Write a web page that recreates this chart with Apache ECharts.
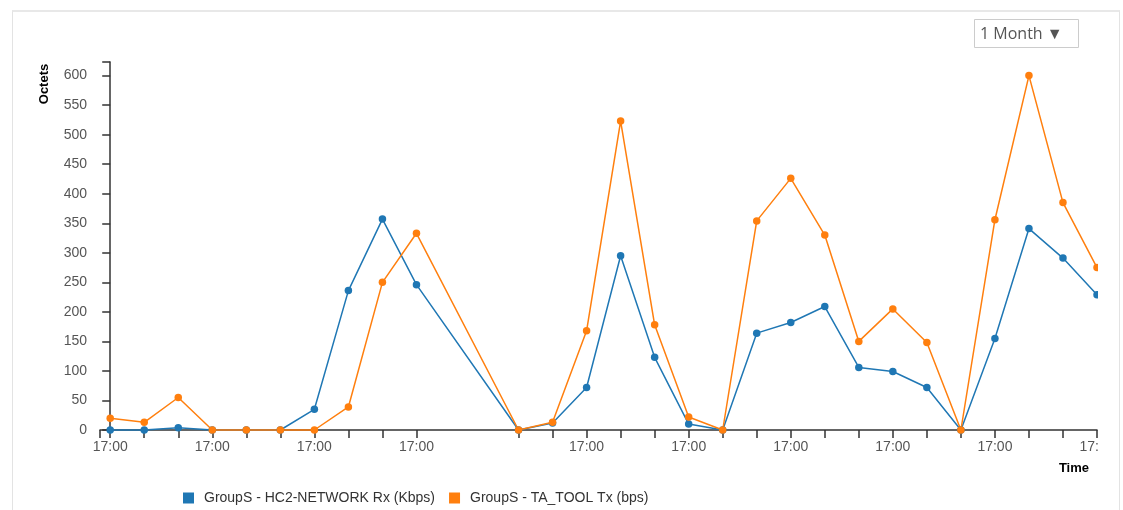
<!DOCTYPE html>
<html>
<head>
<meta charset="utf-8">
<script src="https://cdn.jsdelivr.net/npm/echarts@6/dist/echarts.min.js"></script>
<style>
  html, body { margin: 0; padding: 0; background: #fff; }
  #panel { position: absolute; left: 12px; top: 10px; width: 1106px; height: 520px;
           border-top: 2px solid #e8e8e8; border-left: 1px solid #e3e3e3; border-right: 1px solid #e3e3e3; }
  #chart { position: absolute; left: 0; top: 0; width: 1098px; height: 510px; overflow: hidden; }
</style>
</head>
<body>
<div id="panel"></div>
<div id="chart"></div>
<script>
// Day offsets of the samples (each labelled 17:00); days 10 and 11 have no data
const days = [0, 1, 2, 3, 4, 5, 6, 7, 8, 9, 12, 13, 14, 15, 16, 17, 18, 19, 20, 21, 22, 23, 24, 25, 26, 27, 28, 29];
const rxKbps = [0, 0, 4, 0, 0, 0, 35, 236, 357, 246, 0, 12, 72, 295, 123, 10, 0, 164, 182, 209, 106, 99, 72, 0, 155, 341, 291, 229];
const txBps = [20, 13, 55, 0, 0, 0, 0, 39, 250, 333, 0, 13, 168, 523, 178, 22, 0, 354, 426, 330, 150, 205, 148, 0, 356, 600, 385, 275];
const labelDays = [0, 3, 6, 9, 14, 17, 20, 23, 26, 29];
const timeLabel = '17:00';
const yTicks = [0, 50, 100, 150, 200, 250, 300, 350, 400, 450, 500, 550, 600];
const seriesNames = ['GroupS - HC2-NETWORK Rx (Kbps)', 'GroupS - TA_TOOL Tx (bps)'];
const rangeLabel = '1 Month ▼';

const xMin = -0.3, xMax = 29, yMax = 623;
const font = '"Liberation Sans", Arial, sans-serif';

const chart = echarts.init(document.getElementById('chart'), null, { renderer: 'canvas' });
chart.setOption({
  animation: false,
  color: ['#1f77b4', '#ff7f0e'],
  grid: { left: 100, right: 1, top: 62, bottom: 80, containLabel: false, outerBoundsMode: 'none' },
  xAxis: {
    type: 'value', min: xMin, max: xMax,
    splitLine: { show: false },
    axisLine: { show: true, onZero: false, lineStyle: { color: '#333', width: 1.5 } },
    axisTick: { show: true, length: 8, lineStyle: { color: '#333', width: 1.5 },
                customValues: [xMin].concat(days) },
    axisLabel: { customValues: labelDays, formatter: () => timeLabel, hideOverlap: false,
                 color: '#555', fontSize: 14, fontFamily: font, margin: 10 }
  },
  yAxis: {
    type: 'value', min: 0, max: yMax,
    splitLine: { show: false },
    axisLine: { show: true, lineStyle: { color: '#333', width: 1.5 } },
    axisTick: { show: true, length: 8, lineStyle: { color: '#333', width: 1.5 },
                customValues: yTicks.concat([yMax]) },
    axisLabel: { customValues: yTicks, color: '#555', fontSize: 14, fontFamily: font, margin: 13 }
  },
  legend: {
    left: 178, top: 486, icon: 'rect', itemWidth: 11, itemHeight: 11, itemGap: 14,
    textStyle: { color: '#333', fontSize: 14, fontFamily: font, padding: [0, 0, 0, 5] },
    data: seriesNames
  },
  series: [
    { name: seriesNames[0], type: 'line', data: days.map((d, i) => [d, rxKbps[i]]),
      symbol: 'circle', symbolSize: 7.5, showAllSymbol: true, clip: false,
      lineStyle: { width: 1.5 }, itemStyle: { color: '#1f77b4' } },
    { name: seriesNames[1], type: 'line', data: days.map((d, i) => [d, txBps[i]]),
      symbol: 'circle', symbolSize: 7.5, showAllSymbol: true, clip: false,
      lineStyle: { width: 1.5 }, itemStyle: { color: '#ff7f0e' } }
  ],
  graphic: [
    { type: 'text', x: 44, y: 84, rotation: Math.PI / 2, originX: 0, originY: 0,
      style: { text: 'Octets', fontSize: 13, fontWeight: 'bold', fontFamily: font, fill: '#000',
               align: 'center', verticalAlign: 'middle' } },
    { type: 'text', x: 1089, y: 468,
      style: { text: 'Time', fontSize: 13, fontWeight: 'bold', fontFamily: font, fill: '#000',
               align: 'right', verticalAlign: 'middle' } },
    { type: 'rect', shape: { x: 974.5, y: 19.5, width: 104, height: 28 },
      style: { fill: '#fff', stroke: '#ccc', lineWidth: 1 } },
    { type: 'text', x: 980, y: 34,
      style: { text: rangeLabel, fontSize: 16, fontFamily: '"Open Sans", sans-serif', fill: '#555',
               verticalAlign: 'middle' } }
  ]
});
</script>
</body>
</html>
